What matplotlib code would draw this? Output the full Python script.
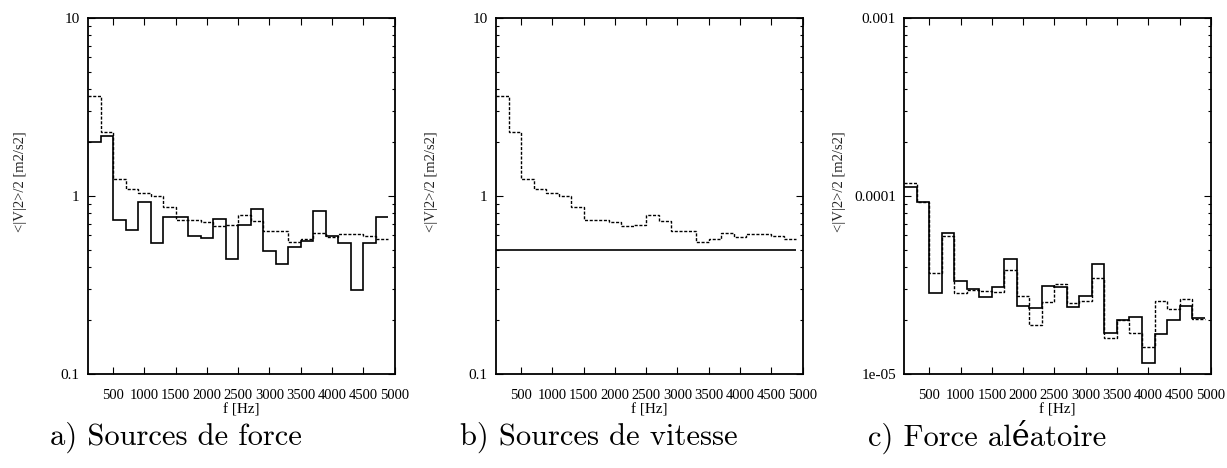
import matplotlib
matplotlib.use("Agg")
import matplotlib.pyplot as plt
import numpy as np
from matplotlib.ticker import FixedLocator, NullFormatter, LogLocator

# frequence des bandes (centres, Hz)
freqs = [200, 400, 600, 800, 1000, 1200, 1400, 1600, 1800, 2000, 2200, 2400,
         2600, 2800, 3000, 3200, 3400, 3600, 3800, 4000, 4200, 4400, 4600, 4800]

# a) Sources de force
force_plein = [2.0, 2.17, 0.733, 0.644, 0.93, 0.542, 0.765, 0.759, 0.595, 0.578, 0.743, 0.44,
               0.687, 0.842, 0.491, 0.413, 0.519, 0.559, 0.824, 0.595, 0.542, 0.296, 0.547, 0.765]
force_tirets = [3.65, 2.28, 1.24, 1.10, 1.04, 1.0, 0.871, 0.733, 0.733, 0.717, 0.681, 0.685,
                0.782, 0.726, 0.636, 0.636, 0.55, 0.57, 0.622, 0.59, 0.611, 0.611, 0.596, 0.571]

# b) Sources de vitesse
vitesse_plein = [0.5, 0.5, 0.5, 0.5, 0.5, 0.5, 0.5, 0.5, 0.5, 0.5, 0.5, 0.5,
                 0.5, 0.5, 0.5, 0.5, 0.5, 0.5, 0.5, 0.5, 0.5, 0.5, 0.5, 0.5]
vitesse_tirets = force_tirets

# c) Force aleatoire
alea_plein = [1.12e-4, 9.2e-5, 2.86e-5, 6.2e-5, 3.34e-5, 2.99e-5, 2.72e-5, 3.1e-5, 4.43e-5, 2.41e-5,
              2.36e-5, 3.12e-5, 3.07e-5, 2.39e-5, 2.75e-5, 4.13e-5, 1.71e-5, 2.0e-5, 2.08e-5, 1.16e-5,
              1.68e-5, 2.01e-5, 2.41e-5, 2.06e-5]
alea_tirets = [1.19e-4, 9.2e-5, 3.67e-5, 5.96e-5, 2.84e-5, 2.96e-5, 2.93e-5, 2.9e-5, 3.84e-5, 2.74e-5,
               1.88e-5, 2.55e-5, 3.19e-5, 2.52e-5, 2.57e-5, 3.45e-5, 1.59e-5, 2.0e-5, 1.71e-5, 1.42e-5,
               2.58e-5, 2.31e-5, 2.63e-5, 2.05e-5]

xticks = [500, 1000, 1500, 2000, 2500, 3000, 3500, 4000, 4500, 5000]
titres = ["a) Sources de force", "b) Sources de vitesse", "c) Force aléatoire"]
ylims = [(0.1, 10), (0.1, 10), (1e-5, 1e-3)]
ylabels_ticks = [["0.1", "1", "10"], ["0.1", "1", "10"], ["1e-05", "0.0001", "0.001"]]

serif = "Liberation Serif"

fig = plt.figure(figsize=(12.27, 4.68), dpi=100)

lefts = [88, 496, 904.3]
donnees = [(force_plein, force_tirets), (vitesse_plein, vitesse_tirets), (alea_plein, alea_tirets)]

c = np.array(freqs, dtype=float)
bords = np.concatenate([c - (c[1] - c[0]) / 2, [c[-1] + (c[1] - c[0]) / 2]])

for i in range(3):
    ax = fig.add_axes([lefts[i] / 1227, 1 - 374 / 468, 306.5 / 1227, 356 / 468])
    plein, tirets = donnees[i]
    ax.stairs(tirets, bords, color="black", lw=1.0, linestyle=(0, (2.2, 1.2)), baseline=None)
    ax.stairs(plein, bords, color="black", lw=1.2, baseline=None)
    ax.set_yscale("log")
    ax.set_xlim(100, 5000)
    ax.set_ylim(*ylims[i])
    lo, hi = ylims[i]
    maj = [lo, lo * 10, hi]
    ax.yaxis.set_major_locator(FixedLocator(maj))
    ax.set_yticklabels(ylabels_ticks[i], fontfamily=serif, fontsize=11)
    ax.yaxis.set_minor_locator(LogLocator(base=10, subs=np.arange(2, 10)))
    ax.yaxis.set_minor_formatter(NullFormatter())
    ax.set_xticks(xticks)
    ax.set_xticklabels([str(t) for t in xticks], fontfamily=serif, fontsize=10.5)
    ax.tick_params(which="both", direction="in", top=True, right=True, width=0.8)
    ax.tick_params(which="major", length=5, pad=6)
    ax.tick_params(which="minor", length=2.5)
    ax.tick_params(axis="x", pad=11)
    for s in ax.spines.values():
        s.set_linewidth(1.3)
    ax.set_xlabel("f [Hz]", fontfamily=serif, fontsize=11, labelpad=1)

    off = [0, 410, 818][i]
    fig.text((off + 21) / 1227, 1 - 182 / 468, "<|V|2>/2 [m2/s2]", rotation=90,
             ha="center", va="center", fontfamily=serif, fontsize=10.5, color="#222222")
    fig.text((off + 50) / 1227, 1 - 437 / 468, titres[i], ha="left", va="center",
             fontfamily=["cmr10", "DejaVu Serif"], fontsize=22)

fig.savefig("out.png", dpi=100)
